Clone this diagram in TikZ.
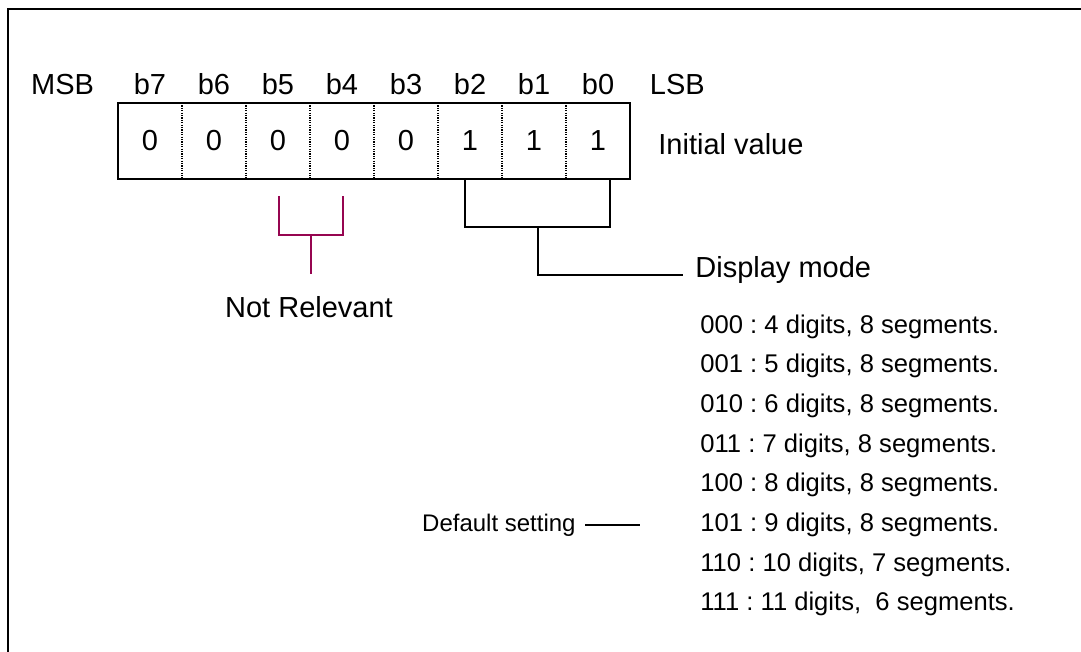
\documentclass[tikz,border=0pt]{standalone}
\usepackage{fontspec}
\setmainfont{Liberation Sans}
\usepackage{tikz}
\usetikzlibrary{positioning}
\definecolor{notrel}{RGB}{150,5,80}
\tikzset{big text/.style={inner sep=0pt,font=\fontsize{14.5}{17}\selectfont},
	bit label/.style={big text},
	bit cell/.style={minimum width=32pt,minimum height=38pt,inner sep=0pt,outer sep=0pt,font=\fontsize{14.5}{17}\selectfont},
	mode line/.style={inner sep=0pt,anchor=base west,font=\fontsize{12.8}{15}\selectfont},
	bracket/.style={line width=0.75pt},}
\frenchspacing

\begin{document}
\begin{tikzpicture}[x=0.5pt,y=-0.5pt]
	\fill[white] (0,0) rectangle (1081,652);
	\useasboundingbox (0,0) rectangle (1081,652);
	\draw[line width=1.25pt] (8,652) |- (1081,9);

	% register cells
	\node[bit cell] (c7) at (150,141) {0};
	\node[bit cell] (c6) [right = 0pt of c7] {0};
	\node[bit cell] (c5) [right = 0pt of c6] {0};
	\node[bit cell] (c4) [right = 0pt of c5] {0};
	\node[bit cell] (c3) [right = 0pt of c4] {0};
	\node[bit cell] (c2) [right = 0pt of c3] {1};
	\node[bit cell] (c1) [right = 0pt of c2] {1};
	\node[bit cell] (c0) [right = 0pt of c1] {1};
	\foreach \i in {7,...,1}
		\draw[line width=0.6pt,dash pattern=on 0.6pt off 0.6pt] (c\i.north east) -- (c\i.south east);
	\draw[line width=0.8pt] (c7.north west) rectangle (c0.south east);

	% bit names
	\foreach \i in {7,...,0}
		\node[bit label] (l\i) [above = 4pt of c\i] {b\i};
	\node[big text] (msb) [base left = 19.5pt of l7] {MSB};
	\node[big text] (lsb) [base right = 17.5pt of l0] {LSB};
	\node[big text,anchor=base west] (init) at (658,155) {Initial value};

	% b5..b4
	\coordinate (p5) at (279,196);
	\coordinate (p4) at (343,196);
	\coordinate (pj) at (311,235);
	\draw[bracket,notrel] (p5) -- ++(0,39) -| (p4);
	\draw[bracket,notrel] (pj) -- ++(0,39);
	\node[big text,anchor=base] (nr) at (309,317) {Not Relevant};

	% b2..b0
	\coordinate (q2) at (465,179);
	\coordinate (q0) at (610,179);
	\coordinate (qj) at (538,227);
	\coordinate (qe) at (683,275);
	\draw[bracket] (q2) -- ++(0,48) -| (q0);
	\draw[bracket] (qj) |- (qe);
	\node[big text,anchor=base west] (dm) at (695,278) {Display mode};

	% modes
	\foreach \t [count=\i from 0] in {{000 : 4 digits, 8 segments.},{001 : 5 digits, 8 segments.},
		{010 : 6 digits, 8 segments.},{011 : 7 digits, 8 segments.},{100 : 8 digits, 8 segments.},
		{101 : 9 digits, 8 segments.},{110 : 10 digits, 7 segments.},{111 : 11 digits,\ \ 6 segments.}}
		\node[mode line] (m\i) at (700,333+39.7*\i) {\t};

	\node[inner sep=0pt,anchor=base east,font=\fontsize{12}{14}\selectfont] (ds) at (576,531) {Default setting};
	\draw[bracket] ([xshift=4.5pt]ds.east) -- ++(55,0);
\end{tikzpicture}
\end{document}
